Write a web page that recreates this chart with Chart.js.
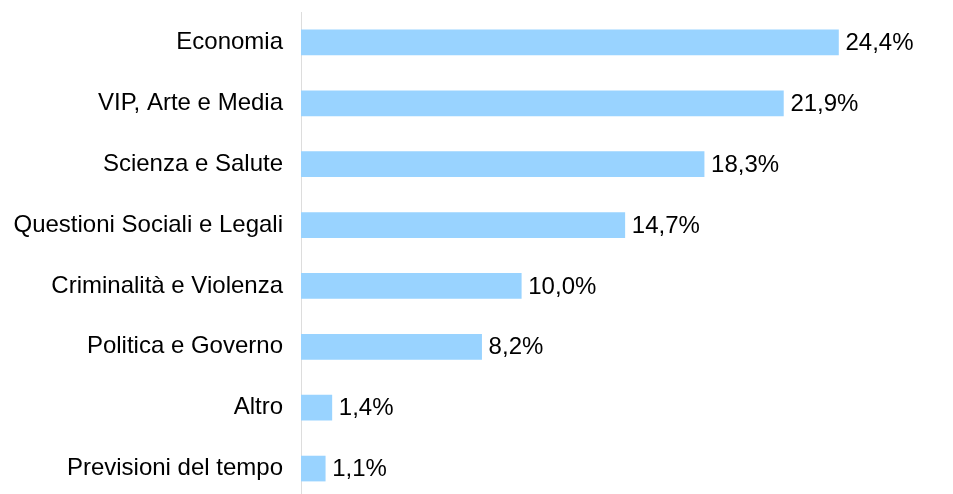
<!DOCTYPE html>
<html>
<head>
  <meta charset="utf-8">
  <title>Argomenti</title>
  <script src="https://cdn.jsdelivr.net/npm/chart.js"></script>
  <style>
    html, body {
      margin: 0;
      padding: 0;
      background: #ffffff;
      overflow: hidden;
    }

    .chart-container {
      position: relative;
      width: 953px;
      height: 499px;
    }
  </style>
</head>
<body>

  <div class="chart-container">
    <canvas id="topicChart"></canvas>
  </div>

  <script>
    // dati
    const categorie = [
      'Economia',
      'VIP, Arte e Media',
      'Scienza e Salute',
      'Questioni Sociali e Legali',
      'Criminalità e Violenza',
      'Politica e Governo',
      'Altro',
      'Previsioni del tempo'
    ];
    const percentuali = [24.4, 21.9, 18.3, 14.7, 10.0, 8.2, 1.4, 1.1];

    const fontName = "'Liberation Sans', Arial, sans-serif";

    // etichette percentuali a destra delle barre
    const valueLabels = {
      id: 'valueLabels',
      afterDatasetsDraw(chart) {
        const ctx = chart.ctx;
        const meta = chart.getDatasetMeta(0);
        ctx.save();
        ctx.font = '24px ' + fontName;
        ctx.fillStyle = '#000000';
        ctx.textAlign = 'left';
        ctx.textBaseline = 'middle';
        meta.data.forEach((bar, i) => {
          const txt = percentuali[i].toFixed(1).replace('.', ',') + '%';
          ctx.fillText(txt, bar.x + 7, bar.y + 1);
        });
        ctx.restore();
      }
    };

    const ctx = document.getElementById('topicChart').getContext('2d');
    const topicChart = new Chart(ctx, {
      type: 'bar',
      data: {
        labels: categorie,
        datasets: [{
          data: percentuali,
          backgroundColor: '#99d3ff',
          borderWidth: 0,
          barThickness: 25
        }]
      },
      options: {
        indexAxis: 'y',
        responsive: true,
        maintainAspectRatio: false,
        animation: false,
        layout: {
          padding: { top: 12, right: 0, bottom: 0, left: 0 }
        },
        plugins: {
          legend: { display: false },
          tooltip: { enabled: false }
        },
        scales: {
          x: {
            display: false,
            min: 0,
            max: 29.6
          },
          y: {
            grid: { display: false, drawTicks: false },
            border: { display: true, color: '#dddddd', width: 1 },
            ticks: {
              color: '#000000',
              padding: 18,
              font: { family: fontName, size: 24 }
            },
            afterFit(scale) {
              scale.width = 301;
              scale.paddingTop = 0;
              scale.paddingBottom = 0;
            }
          }
        }
      },
      plugins: [valueLabels]
    });
  </script>
</body>
</html>
